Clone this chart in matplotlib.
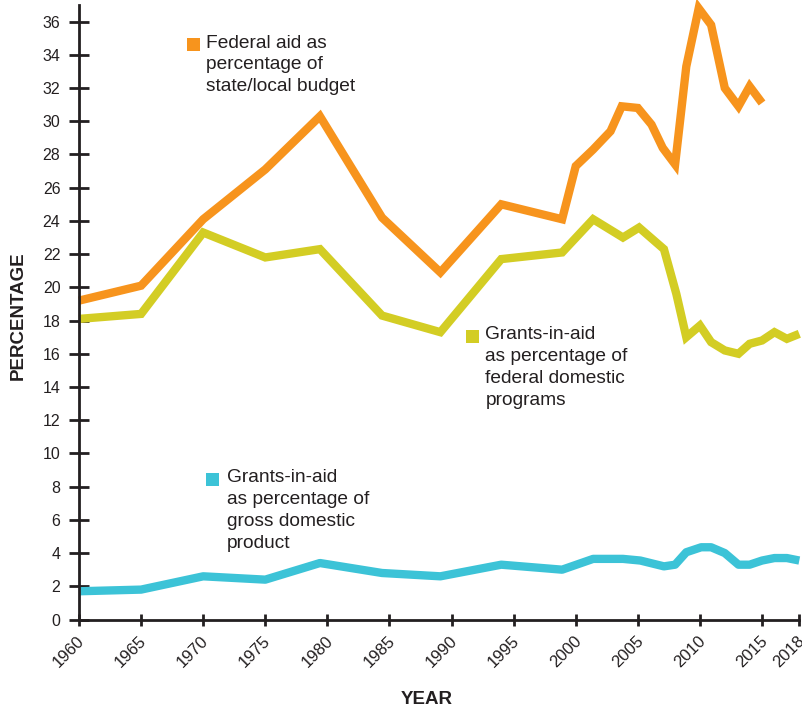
import matplotlib
matplotlib.use("Agg")
import matplotlib.pyplot as plt
import matplotlib.transforms as mtransforms
from matplotlib.patches import Rectangle

# Federal aid as a share of state/local budgets
fed_years = [1960, 1965, 1970, 1975, 1979.4, 1984.4, 1989.1, 1994, 1998.9, 2000,
             2001.4, 2002.8, 2003.7, 2005, 2006.1, 2007, 2008, 2008.9, 2009.9,
             2010.9, 2012, 2013.1, 2014, 2015]
fed_values = [19.2, 20.1, 24.1, 27.1, 30.3, 24.2, 20.9, 25.0, 24.1, 27.3,
              28.3, 29.4, 30.9, 30.8, 29.8, 28.4, 27.4, 33.3, 36.8,
              35.8, 32.0, 30.9, 32.1, 31.1]

# Grants-in-aid as a share of federal domestic programs
dom_years = [1960, 1965, 1970, 1975, 1979.4, 1984.4, 1989.1, 1994, 1998.9, 2001.4,
             2003.8, 2005.1, 2007.1, 2008.1, 2008.9, 2010, 2010.9, 2012, 2013.1,
             2014, 2015, 2016, 2017, 2018]
dom_values = [18.1, 18.4, 23.3, 21.8, 22.3, 18.3, 17.3, 21.7, 22.1, 24.1,
              23.0, 23.6, 22.3, 19.6, 17.0, 17.7, 16.7, 16.2, 16.0,
              16.6, 16.8, 17.3, 16.9, 17.2]

# Grants-in-aid as a share of GDP
gdp_years = [1960, 1965, 1970, 1975, 1979.4, 1984.4, 1989.1, 1994, 1998.9, 2001.4,
             2003.8, 2005.2, 2007.1, 2008, 2008.9, 2010.1, 2010.9, 2012, 2013.1,
             2014, 2015, 2016, 2017, 2018]
gdp_values = [1.7, 1.8, 2.6, 2.4, 3.4, 2.8, 2.6, 3.3, 3.0, 3.65,
              3.65, 3.55, 3.2, 3.3, 4.05, 4.35, 4.35, 4.0, 3.3,
              3.3, 3.55, 3.7, 3.7, 3.55]

x_ticks = [1960, 1965, 1970, 1975, 1980, 1985, 1990, 1995, 2000, 2005, 2010, 2015, 2018]
y_ticks = list(range(0, 37, 2))

labels = {
    "fed": "Federal aid as\npercentage of\nstate/local budget",
    "dom": "Grants-in-aid\nas percentage of\nfederal domestic\nprograms",
    "gdp": "Grants-in-aid\nas percentage of\ngross domestic\nproduct",
}

ORANGE = "#F7941D"
YELLOW = "#D3CD24"
CYAN = "#3CC3D7"
INK = "#231F20"

W, H = 803, 710
fig = plt.figure(figsize=(W / 100, H / 100), dpi=100)
plt.rcParams["font.family"] = ["Liberation Sans", "DejaVu Sans"]

def fx(px):
    return px / W

def fy(py):
    return 1 - py / H

ax = fig.add_axes([fx(79), fy(619.5), fx(799.3) - fx(79), fy(5) - fy(619.5)])
ax.set_xlim(1960, 2018)
ax.set_ylim(0, 37)

lw = 6.0
ax.plot(gdp_years, gdp_values, color=CYAN, lw=lw, solid_joinstyle="round",
        solid_capstyle="butt", clip_on=False, zorder=3)
ax.plot(dom_years, dom_values, color=YELLOW, lw=lw, solid_joinstyle="miter",
        solid_capstyle="butt", clip_on=False, zorder=3)
ax.plot(fed_years, fed_values, color=ORANGE, lw=lw, solid_joinstyle="miter",
        solid_capstyle="butt", clip_on=False, zorder=4)

for side in ("top", "right"):
    ax.spines[side].set_visible(False)
for side in ("left", "bottom"):
    ax.spines[side].set_linewidth(2.0)
    ax.spines[side].set_color(INK)
    ax.spines[side].set_zorder(5)

ax.set_yticks(y_ticks)
ax.set_xticks(x_ticks)
ax.tick_params(axis="y", direction="inout", length=13.7, width=2.0, color=INK,
               labelsize=11.5, labelcolor=INK, pad=6.5)
ax.tick_params(axis="x", direction="inout", length=9.2, width=2.0, color=INK,
               labelsize=12, labelcolor=INK, pad=9)
shift = mtransforms.ScaledTranslation(3 / 100, 0, fig.dpi_scale_trans)
for lab in ax.get_xticklabels():
    lab.set_rotation(45)
    lab.set_ha("right")
    lab.set_va("center")
    lab.set_rotation_mode("anchor")
    lab.set_transform(lab.get_transform() + shift)

fig.text(fx(18), fy(316), "PERCENTAGE", rotation=90, ha="center", va="center",
         fontsize=13.5, fontweight="bold", color=INK)
fig.text(fx(427), fy(700), "YEAR", ha="center", va="center",
         fontsize=13.5, fontweight="bold", color=INK)

def key(sq_x, sq_y, text_x, cap_top, color, text):
    size = 13
    fig.patches.append(Rectangle((fx(sq_x), fy(sq_y + size)), size / W, size / H,
                                 transform=fig.transFigure, facecolor=color,
                                 edgecolor="none"))
    fig.text(fx(text_x), fy(cap_top - 3.5), text, ha="left", va="top",
             fontsize=13.8, color=INK, linespacing=1.38)

key(187, 38, 206.5, 38, ORANGE, labels["fed"])
key(466, 330, 485.5, 330, YELLOW, labels["dom"])
key(206.5, 473, 227, 473, CYAN, labels["gdp"])

fig.savefig("out.png", dpi=100, facecolor="white")
